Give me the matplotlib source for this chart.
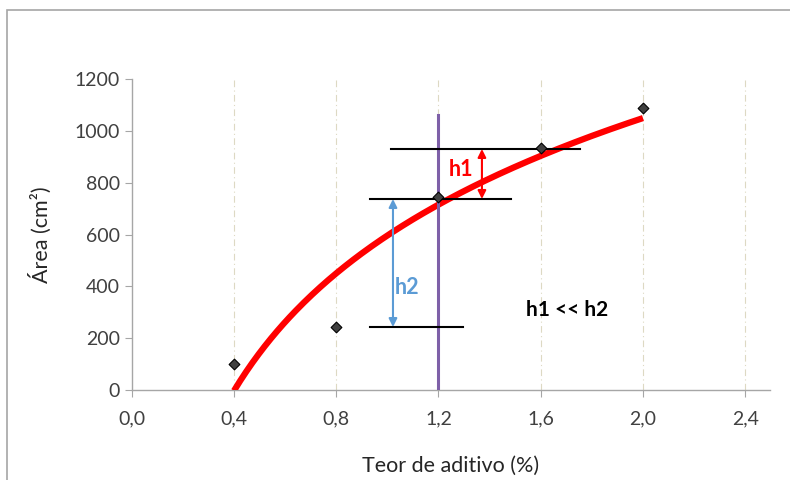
import numpy as np
import matplotlib
matplotlib.use("Agg")
import matplotlib.pyplot as plt
from matplotlib.patches import Rectangle

plt.rcParams['font.family'] = ['Lato', 'DejaVu Sans']

x_data = [0.4, 0.8, 1.2, 1.6, 2.0]
y_data = [100, 245, 745, 935, 1090]
x_ticks = [0.0, 0.4, 0.8, 1.2, 1.6, 2.0, 2.4]
x_ticklabels = ["0,0", "0,4", "0,8", "1,2", "1,6", "2,0", "2,4"]
y_ticks = [0, 200, 400, 600, 800, 1000, 1200]
x_target = 1.2
h_top = 930
h_mid = 737
h_low = 243

fig = plt.figure(figsize=(7.9, 4.8), dpi=100)
fig.patches.append(Rectangle((7/790, -0.1), 1.2, 1 - 10/480 + 0.1, transform=fig.transFigure,
                             fill=False, edgecolor='#a6a6a6', linewidth=1.2))
ax = fig.add_axes([131.75/790, 90/480, (770-131.75)/790, (390-79)/480])

# logarithmic trendline fitted to data
lx = np.log(np.array(x_data))
a, b = np.polyfit(lx, np.array(y_data), 1)
xs = np.linspace(min(x_data), max(x_data), 200)
ax.plot(xs, a*np.log(xs) + b, color='#ff0000', lw=4.5, solid_capstyle='butt', zorder=3)

ax.scatter(x_data, y_data, marker='D', s=30, color='#404040', edgecolor='black', linewidth=0.8, zorder=5)

# vertical purple line
ax.plot([x_target, x_target], [0, 1061], color='#7e60a8', lw=2.2, zorder=4)

# horizontal black lines
ax.plot([1.015, 1.754], [h_top, h_top], color='black', lw=1.5, zorder=4)
ax.plot([0.932, 1.484], [h_mid, h_mid], color='black', lw=1.5, zorder=4)
ax.plot([0.932, 1.296], [h_low, h_low], color='black', lw=1.5, zorder=4)

# arrows
ax.annotate('', xy=(1.370, h_top), xytext=(1.370, h_mid),
            arrowprops=dict(arrowstyle='<|-|>', color='#ff0000', lw=1.5, mutation_scale=12, shrinkA=0, shrinkB=0), zorder=6)
ax.annotate('', xy=(1.022, h_mid), xytext=(1.022, h_low),
            arrowprops=dict(arrowstyle='<|-|>', color='#5b9bd5', lw=1.5, mutation_scale=12, shrinkA=0, shrinkB=0), zorder=6)
ax.text(1.288, 849, 'h1', color='#ff0000', fontsize=15.5, fontweight='bold', ha='center', va='center')
ax.text(1.077, 397, 'h2', color='#5b9bd5', fontsize=15.5, fontweight='bold', ha='center', va='center')
ax.text(1.703, 309, 'h1 << h2', color='black', fontsize=15, fontweight='bold', ha='center', va='center')

ax.set_xlim(0, 2.497)
ax.set_ylim(0, 1200)
ax.set_xticks(x_ticks)
ax.set_xticklabels(x_ticklabels)
ax.set_yticks(y_ticks)
for xv in x_ticks[1:]:
    ax.axvline(xv, color='#ddd9c3', lw=0.8, ls=(0, (6, 3, 1, 3)), zorder=1)

for s in ['top', 'right']:
    ax.spines[s].set_visible(False)
for s in ['left', 'bottom']:
    ax.spines[s].set_color('#a6a6a6')
    ax.spines[s].set_linewidth(1.0)
ax.tick_params(axis='both', colors='#a6a6a6', labelcolor='#404040', labelsize=14, length=5, direction='out')
ax.tick_params(axis='x', pad=10)
ax.set_xlabel('Teor de aditivo (%)', fontsize=15.5, color='#262626', labelpad=20)
ax.set_ylabel('Área (cm²)', fontsize=15.5, color='#262626', labelpad=16)

fig.savefig('out.png', dpi=100)
